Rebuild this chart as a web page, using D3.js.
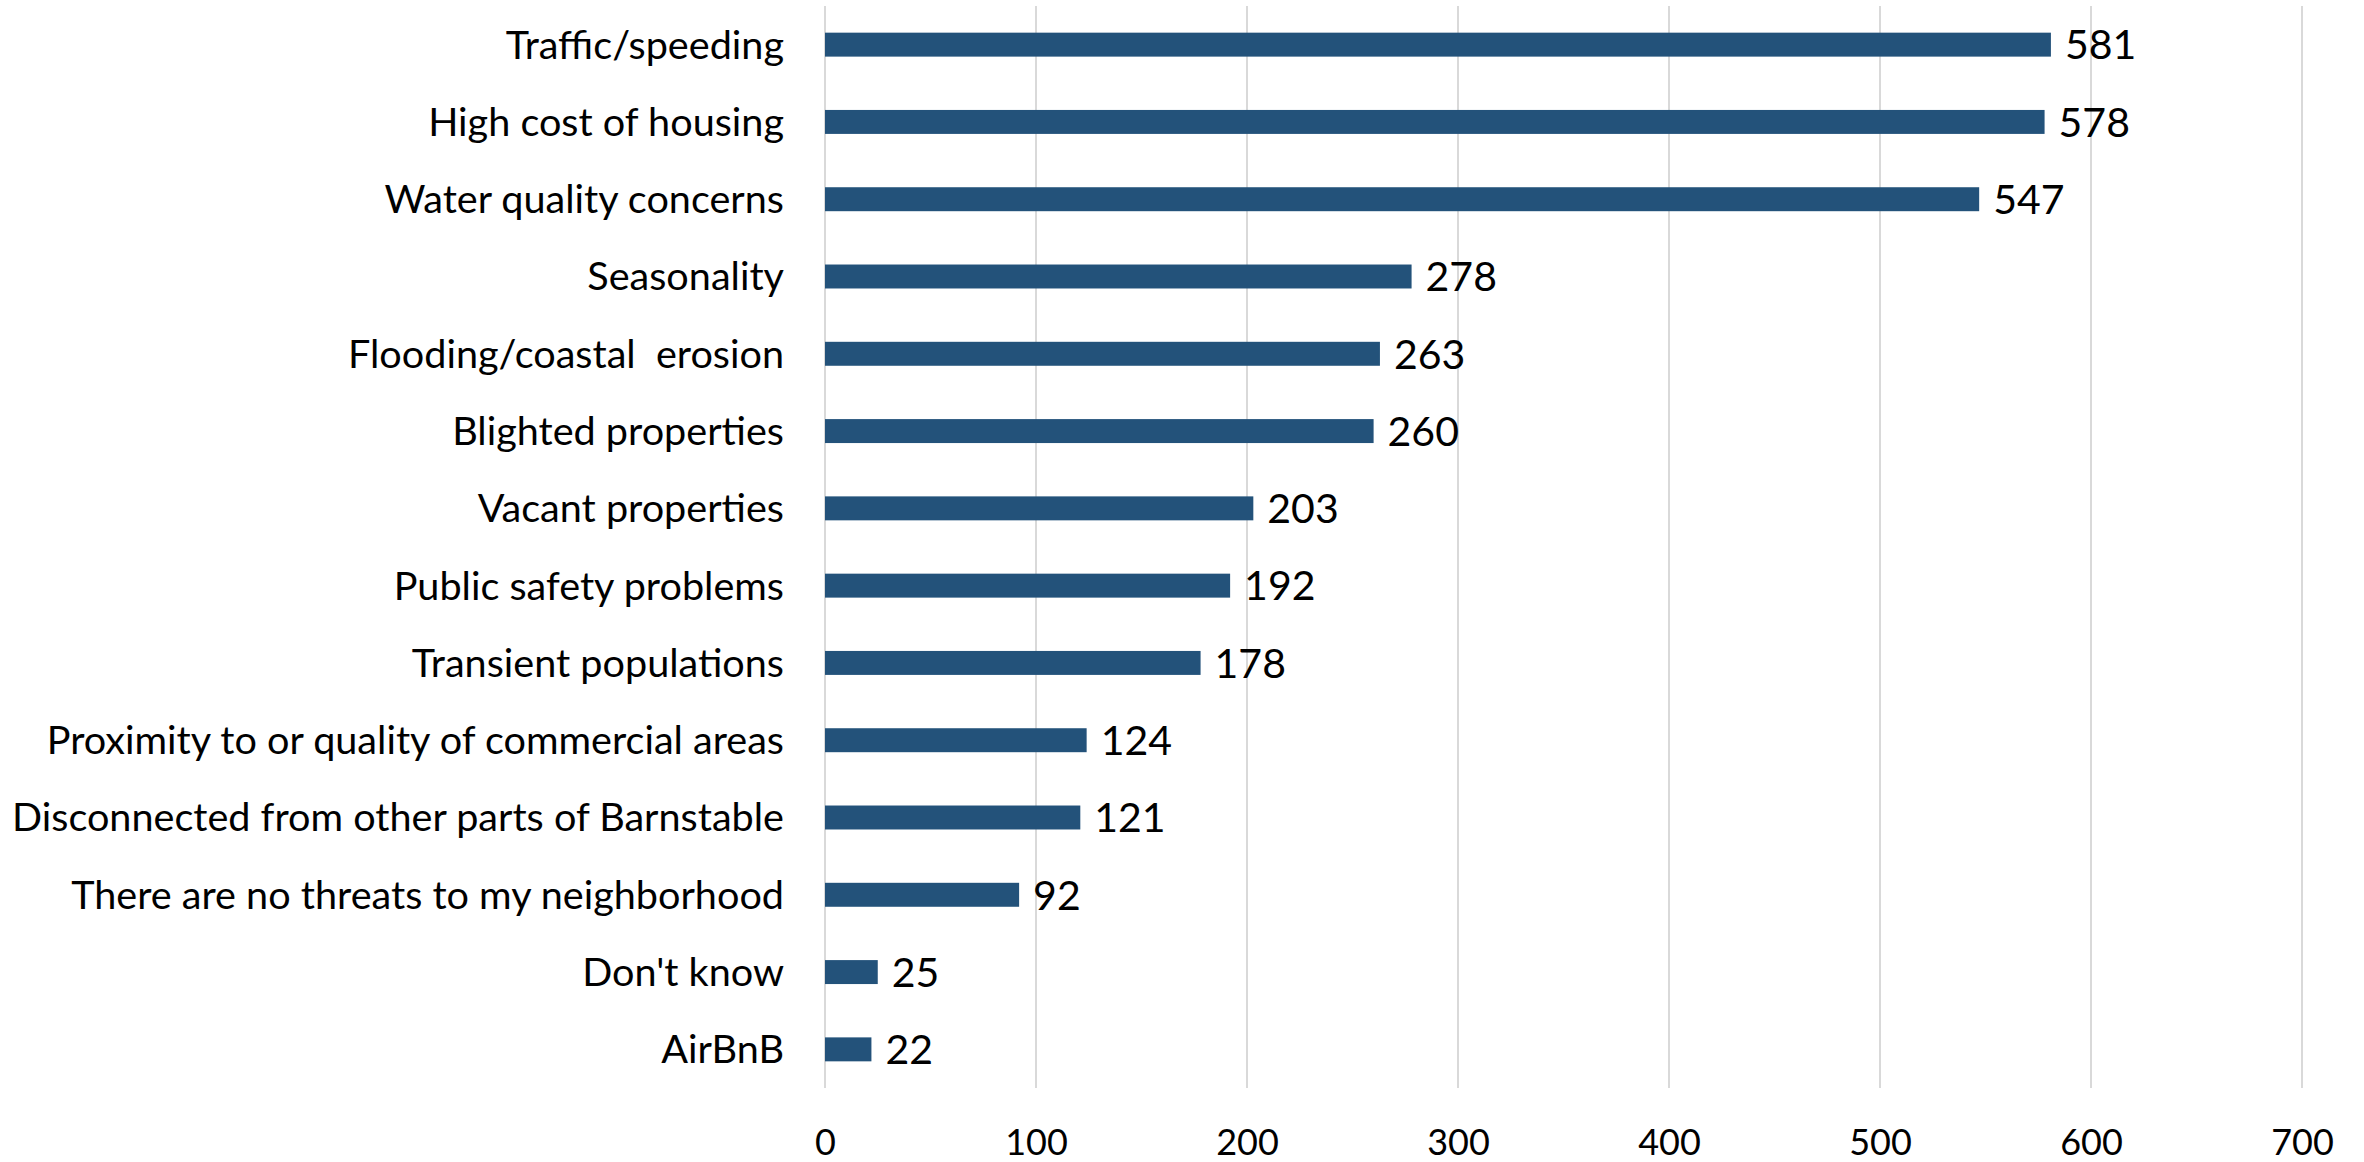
<!DOCTYPE html>
<html>
<head>
<meta charset="utf-8">
<script src="https://cdn.jsdelivr.net/npm/d3@7"></script>
<style>
  html, body { margin: 0; padding: 0; background: #fff; }
  svg { display: block; }
  text { font-family: Lato, "Open Sans", sans-serif; fill: #000; }
</style>
</head>
<body>
<svg id="chart" width="2364" height="1162"></svg>
<script>
const categories = [
  "Traffic/speeding",
  "High cost of housing",
  "Water quality concerns",
  "Seasonality",
  "Flooding/coastal  erosion",
  "Blighted properties",
  "Vacant properties",
  "Public safety problems",
  "Transient populations",
  "Proximity to or quality of commercial areas",
  "Disconnected from other parts of Barnstable",
  "There are no threats to my neighborhood",
  "Don't know",
  "AirBnB"
];
const values = [581, 578, 547, 278, 263, 260, 203, 192, 178, 124, 121, 92, 25, 22];
const tickValues = [0, 100, 200, 300, 400, 500, 600, 700];

(function () {
const svg = d3.select("#chart");
const mLeft = 825, mRight = 2302, mTop = 6, mBottom = 1088;

const x = d3.scaleLinear().domain([0, 700]).range([mLeft, mRight]);
const y = d3.scaleBand().domain(categories).range([mTop, mBottom])
  .paddingInner(0.69).paddingOuter(0.345);

// gridlines
svg.append("g").selectAll("line").data(tickValues).join("line")
  .attr("x1", d => x(d)).attr("x2", d => x(d))
  .attr("y1", mTop).attr("y2", mBottom)
  .attr("stroke", "#d9d9d9").attr("stroke-width", 2);

// bottom axis tick labels
const xAxis = d3.axisBottom(x).tickValues(tickValues).tickSize(0).tickPadding(0);
const gx = svg.append("g").attr("transform", `translate(0,${mBottom})`).call(xAxis);
gx.select(".domain").remove();
gx.selectAll("text")
  .attr("font-family", "Lato, 'Open Sans', sans-serif")
  .attr("font-size", 36)
  .attr("fill", "#000")
  .attr("dy", null)
  .attr("y", 67);

// category labels
const yAxis = d3.axisLeft(y).tickSize(0).tickPadding(0);
const gy = svg.append("g").attr("transform", `translate(784,0)`).call(yAxis);
gy.select(".domain").remove();
gy.selectAll("text")
  .attr("font-family", "Lato, 'Open Sans', sans-serif")
  .attr("font-size", 39.6)
  .attr("fill", "#000")
  .attr("x", 0)
  .attr("dy", "0.35em")
  .style("white-space", "pre");

// bars
const data = categories.map((c, i) => ({ c, v: values[i] }));
svg.append("g").selectAll("rect").data(data).join("rect")
  .attr("x", x(0))
  .attr("y", d => y(d.c))
  .attr("width", d => x(d.v) - x(0))
  .attr("height", y.bandwidth())
  .attr("fill", "#23527A");

// value labels
svg.append("g").selectAll("text").data(data).join("text")
  .attr("x", d => x(d.v) + 14)
  .attr("y", d => y(d.c) + y.bandwidth() / 2)
  .attr("dy", "0.36em")
  .attr("font-size", 41)
  .text(d => d.v);
})();
</script>
</body>
</html>
